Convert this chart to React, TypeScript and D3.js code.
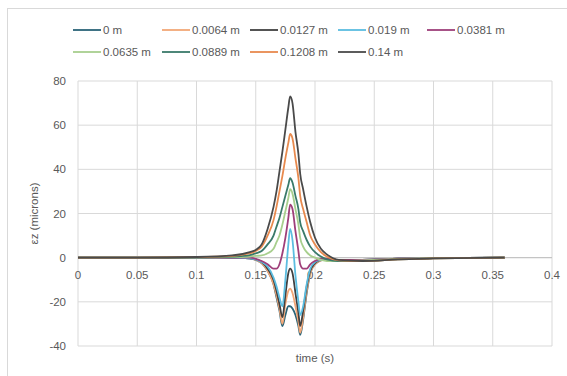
import { useEffect, useRef } from "react";
import * as d3 from "d3";

// time samples (s)
const time = [0, 0.05, 0.1, 0.13, 0.145, 0.15, 0.155, 0.16, 0.165, 0.1675, 0.17, 0.1725, 0.175, 0.1775, 0.179, 0.181, 0.1835, 0.186, 0.1875, 0.19, 0.193, 0.196, 0.2, 0.205, 0.21, 0.22, 0.24, 0.27, 0.3, 0.36];

const depths = ["0 m", "0.0064 m", "0.0127 m", "0.019 m", "0.0381 m", "0.0635 m", "0.0889 m", "0.1208 m", "0.14 m"];
const colors = ["#2a6478", "#f2a777", "#404040", "#5bbde0", "#9e3f7a", "#a8cf8e", "#3a7a6a", "#e88a4e", "#4a4a4a"];

const ez0 = [0, 0, 0, 0, -0.3, -1, -2.5, -6, -12, -18, -24, -31, -26, -22, -22, -23, -26, -31, -35, -28, -16, -7, -3, -1.2, -0.8, -1, -1, -0.5, -0.2, 0];
const ez0064 = [0, 0, 0, 0, -0.3, -1, -2.5, -6, -12, -17, -23, -30, -21, -15, -14, -16, -22, -29, -34, -27, -15, -7, -3, -1.2, -0.8, -1, -1, -0.5, -0.2, 0];
const ez0127 = [0, 0, 0, 0, -0.3, -0.8, -2, -5, -10, -15, -21, -27, -17, -7, -5, -7, -16, -25, -31, -24, -13, -6, -2.5, -1, -0.8, -1, -1, -0.5, -0.2, 0];
const ez019 = [0, 0, 0, 0, -0.3, -0.8, -2, -4, -9, -13, -18, -22, -10, 6, 13, 8, -8, -20, -26, -22, -12, -5, -2, -1, -0.8, -1, -1, -0.5, -0.2, 0];
const ez0381 = [0, 0, 0, 0, 0, -0.5, -1.5, -3, -5, -5, -3, 2, 9, 18, 24, 22, 12, 3, -3, -5, -5, -3, -1.5, -0.5, -0.5, -1, -1, -0.5, -0.2, 0];
const ez0635 = [0, 0, 0, 0.2, 0.5, 0.8, 1, 2, 4, 7, 10, 15, 21, 27, 31, 29, 22, 15, 9, 5, 2.5, 1, 0, -1, -1.5, -1.5, -1.2, -0.6, -0.2, 0];
const ez0889 = [0, 0, 0.1, 0.5, 1.2, 2, 3, 6, 10, 14, 18, 23, 28, 33, 36, 34, 28, 22, 16, 12, 8, 5, 2.5, 0.5, -0.8, -1.5, -1.5, -0.8, -0.3, 0];
const ez1208 = [0, 0, 0.2, 0.8, 2, 3, 5, 10, 17, 23, 30, 37, 45, 52, 56, 54, 45, 36, 28, 22, 16, 10, 6, 2.5, 0.5, -1.2, -1.5, -0.8, -0.3, 0];
const ez14 = [0, 0, 0.3, 1, 2.5, 3.5, 6, 13, 23, 30, 39, 48, 58, 68, 73, 70, 57, 47, 38, 31, 23, 16, 9, 4, 1.5, -1, -1.5, -0.8, -0.3, 0];

const series = [ez0, ez0064, ez0127, ez019, ez0381, ez0635, ez0889, ez1208, ez14];

const xTicks = [0, 0.05, 0.1, 0.15, 0.2, 0.25, 0.3, 0.35, 0.4];
const yTicks = [-40, -20, 0, 20, 40, 60, 80];

export default function App() {
  const ref = useRef<SVGSVGElement>(null);

  useEffect(() => {
    const svg = d3.select(ref.current);
    svg.selectAll("*").remove();
    const font = "'Liberation Sans', Arial, sans-serif";
    const txt = "#595959";
    const fs = 11.5;

    const x = d3.scaleLinear().domain([0, 0.4]).range([78, 552]);
    const y = d3.scaleLinear().domain([-40, 80]).range([346, 81]);

    // chart border
    svg.append("rect")
      .attr("x", 7.5).attr("y", 8.5)
      .attr("width", 580).attr("height", 390)
      .attr("fill", "#fff").attr("stroke", "#d9d9d9");

    // gridlines
    svg.append("g").selectAll("line").data(yTicks).join("line")
      .attr("x1", x(0)).attr("x2", x(0.4))
      .attr("y1", d => y(d)).attr("y2", d => y(d))
      .attr("stroke", "#d9d9d9").attr("stroke-width", 1);
    svg.append("g").selectAll("line").data(xTicks).join("line")
      .attr("y1", y(-40)).attr("y2", y(80))
      .attr("x1", d => x(d)).attr("x2", d => x(d))
      .attr("stroke", "#d9d9d9").attr("stroke-width", 1);
    svg.append("line")
      .attr("x1", x(0)).attr("x2", x(0.4)).attr("y1", y(0)).attr("y2", y(0))
      .attr("stroke", "#bfbfbf");

    // tick labels
    svg.append("g").selectAll("text").data(yTicks).join("text")
      .attr("x", 66).attr("y", d => y(d)).attr("dy", "0.35em")
      .attr("text-anchor", "end")
      .attr("font-family", font).attr("font-size", fs).attr("fill", txt)
      .text(d => d);
    svg.append("g").selectAll("text").data(xTicks).join("text")
      .attr("x", d => x(d)).attr("y", y(0) + 17).attr("dy", "0.35em")
      .attr("text-anchor", "middle")
      .attr("font-family", font).attr("font-size", fs).attr("fill", txt)
      .text(d => d);

    // axis titles
    svg.append("text")
      .attr("x", 315).attr("y", 358).attr("dy", "0.35em")
      .attr("text-anchor", "middle")
      .attr("font-family", font).attr("font-size", fs).attr("fill", txt)
      .text("time (s)");
    svg.append("text")
      .attr("transform", `translate(34, ${(y(-40) + y(80)) / 2}) rotate(-90)`)
      .attr("dy", "0.35em")
      .attr("text-anchor", "middle")
      .attr("font-family", font).attr("font-size", fs).attr("fill", txt)
      .text("εz (microns)");

    // lines
    const line = d3.line<number>()
      .x((_, i) => x(time[i]))
      .y(d => y(d))
      .curve(d3.curveMonotoneX);
    svg.append("g").selectAll("path").data(series).join("path")
      .attr("d", d => line(d))
      .attr("fill", "none")
      .attr("stroke", (_, i) => colors[i])
      .attr("stroke-width", 1.8);

    // legend
    const legX = [73, 162, 250, 338, 427];
    const legend = svg.append("g").selectAll("g").data(depths).join("g")
      .attr("transform", (_, i) => `translate(${legX[i % 5]}, ${i < 5 ? 30 : 52})`);
    legend.append("line")
      .attr("x1", 0).attr("x2", 28).attr("y1", 0).attr("y2", 0)
      .attr("stroke", (_, i) => colors[i]).attr("stroke-width", 1.8);
    legend.append("text")
      .attr("x", 30).attr("dy", "0.35em")
      .attr("font-family", font).attr("font-size", fs).attr("fill", txt)
      .text(d => d);
  }, []);

  return (
    <svg ref={ref} width={567} height={376}
      style={{ position: "absolute", left: 0, top: 0, background: "#fff" }} />
  );
}
